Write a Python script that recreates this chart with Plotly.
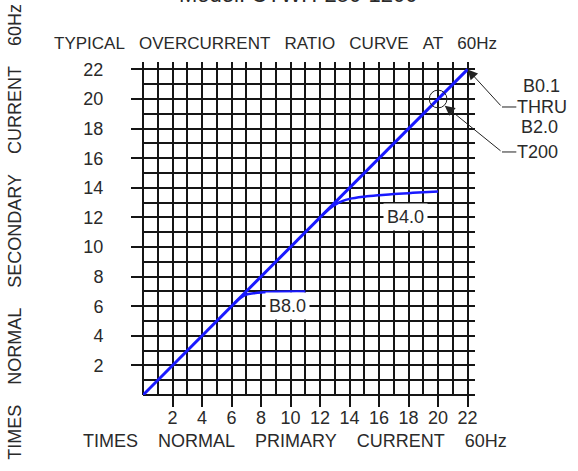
import plotly.graph_objects as go

# ---- data ----
main_x = [0, 22]
main_y = [0, 22]
b8_x = [6.2, 6.6, 7.0, 7.5, 8.0, 9.0, 10.0, 11.0]
b8_y = [6.2, 6.55, 6.78, 6.87, 6.93, 6.98, 7.0, 7.0]
b4_x = [12.2, 12.6, 13.0, 13.5, 14.0, 15.0, 16.0, 17.0, 18.0, 19.0, 20.0]
b4_y = [12.2, 12.55, 12.85, 13.1, 13.25, 13.4, 13.5, 13.58, 13.64, 13.7, 13.75]
tick_vals = [2, 4, 6, 8, 10, 12, 14, 16, 18, 20, 22]
tick_text = [str(v) for v in tick_vals]
t200_point = (20, 20)

RMAX = 22.5
FONT = "Liberation Sans, Arial, sans-serif"
TXT = "#2a2a2a"
BLUE = "rgb(25,25,255)"
GRID = "#151515"


def px(v):
    return v / RMAX


def spaced(words, n=3):
    return ("\u00a0" * n).join(words)

fig = go.Figure()
fig.add_trace(go.Scatter(x=main_x, y=main_y, mode="lines",
                         line=dict(color=BLUE, width=3), cliponaxis=False))
fig.add_trace(go.Scatter(x=b8_x, y=b8_y, mode="lines",
                         line=dict(color=BLUE, width=2.5, shape="spline")))
fig.add_trace(go.Scatter(x=b4_x, y=b4_y, mode="lines",
                         line=dict(color=BLUE, width=2.5, shape="spline")))

axis_common = dict(
    range=[0, RMAX], tickvals=tick_vals, ticktext=tick_text,
    ticks="outside", ticklen=11, tickwidth=1.8, tickcolor=GRID,
    showgrid=True, gridcolor=GRID, gridwidth=1.8,
    minor=dict(dtick=1, tick0=0, showgrid=True, gridcolor=GRID, gridwidth=1.8),
    zeroline=True, zerolinecolor=GRID, zerolinewidth=1.8,
    showline=False, automargin=False,
    tickfont=dict(family=FONT, size=18, color=TXT),
    fixedrange=True,
)
fig.update_xaxes(**axis_common, ticklabelstandoff=-5)
fig.update_yaxes(**axis_common, ticklabelstandoff=24)

side_font = dict(family=FONT, size=18, color=TXT)
annotations = [
    dict(text=spaced(["TYPICAL", "OVERCURRENT", "RATIO", "CURVE", "AT", "60Hz"]),
         x=px(9.0), y=1.056, xanchor="center", yanchor="middle",
         xref="paper", yref="paper", showarrow=False,
         font=dict(family=FONT, size=17, color=TXT)),
    dict(text="Model: CTWH-250-1200", x=px(10.5), y=1.159, xanchor="center",
         yanchor="bottom", xref="paper", yref="paper", showarrow=False,
         font=dict(family=FONT, size=22, color=TXT)),
    dict(text=spaced(["TIMES", "NORMAL", "PRIMARY", "CURRENT", "60Hz"], 4),
         x=px(10.3), y=-0.138, xanchor="center", yanchor="middle",
         xref="paper", yref="paper", showarrow=False,
         font=dict(family=FONT, size=18, color=TXT)),
    dict(text=spaced(["TIMES", "NORMAL", "SECONDARY", "CURRENT", "60Hz"], 4),
         x=-0.386, y=0.49, xanchor="center", yanchor="middle",
         xref="paper", yref="paper", showarrow=False, textangle=-90,
         font=dict(family=FONT, size=18, color=TXT)),
    dict(text="B8.0", x=9.8, y=6.0, xref="x", yref="y", showarrow=False,
         bgcolor="white", borderpad=3, font=side_font),
    dict(text="B4.0", x=17.8, y=12.05, xref="x", yref="y", showarrow=False,
         bgcolor="white", borderpad=3, font=side_font),
    # leader arrows
    dict(text="", x=22, y=22, xref="x", yref="y", ax=24.33, ay=19.46,
         axref="x", ayref="y", showarrow=True, arrowhead=2, arrowsize=2,
         arrowwidth=1, arrowcolor="#222"),
    dict(text="", x=20.45, y=19.55, xref="x", yref="y", ax=24.33, ay=16.42,
         axref="x", ayref="y", showarrow=True, arrowhead=2, arrowsize=2,
         arrowwidth=1, arrowcolor="#222"),
    dict(text="B0.1", x=px(27.0), y=px(20.9), xanchor="center", yanchor="middle",
         xref="paper", yref="paper", showarrow=False, font=side_font),
    dict(text="THRU", x=px(25.2), y=px(19.46), xanchor="left", yanchor="middle",
         xref="paper", yref="paper", showarrow=False, font=side_font),
    dict(text="B2.0", x=px(26.9), y=px(18.1), xanchor="center", yanchor="middle",
         xref="paper", yref="paper", showarrow=False, font=side_font),
    dict(text="T200", x=px(25.2), y=px(16.42), xanchor="left", yanchor="middle",
         xref="paper", yref="paper", showarrow=False, font=side_font),
]

r = 0.6
shapes = [
    dict(type="circle", xref="x", yref="y",
         x0=t200_point[0] - r, x1=t200_point[0] + r,
         y0=t200_point[1] - r, y1=t200_point[1] + r,
         line=dict(color="#222", width=1)),
    dict(type="line", xref="paper", yref="paper",
         x0=px(24.33), x1=px(25.3), y0=px(19.46), y1=px(19.46),
         line=dict(color="#222", width=1)),
    dict(type="line", xref="paper", yref="paper",
         x0=px(24.33), x1=px(25.3), y0=px(16.42), y1=px(16.42),
         line=dict(color="#222", width=1)),
]

fig.update_layout(
    width=578, height=471,
    margin=dict(l=143, r=103, t=62, b=76),
    paper_bgcolor="white", plot_bgcolor="white",
    showlegend=False,
    annotations=annotations, shapes=shapes,
)

fig.write_html("out.html", config={"displayModeBar": False},
               post_script="document.body.style.margin='0px';document.body.style.overflow='hidden';")
